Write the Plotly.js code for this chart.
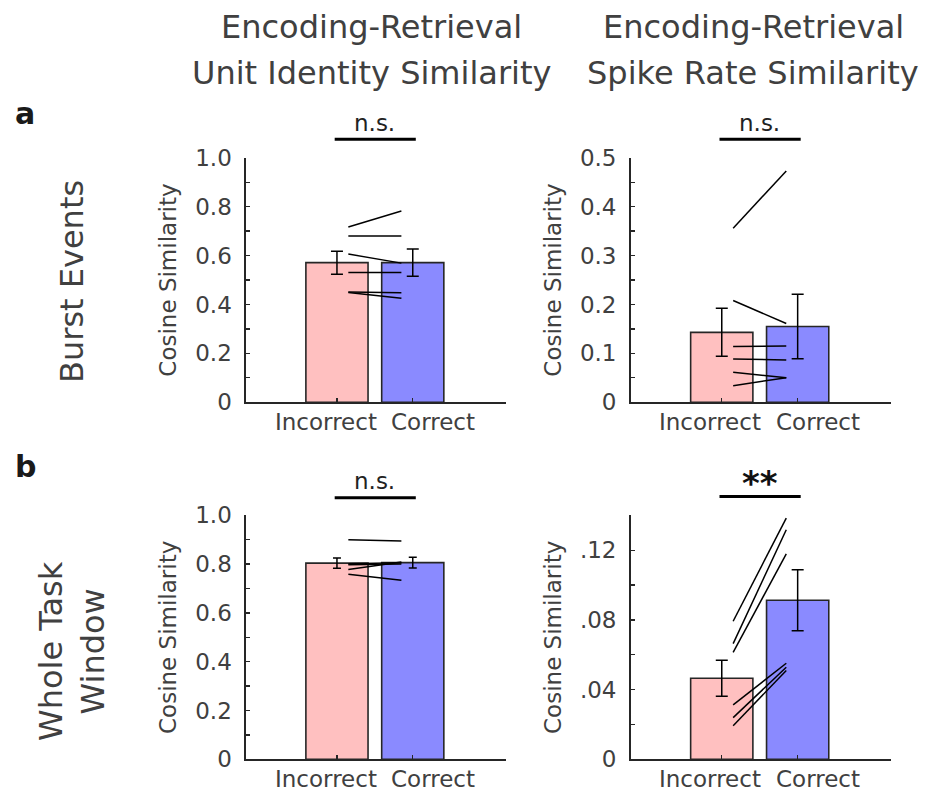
<!DOCTYPE html>
<html>
<head>
<meta charset="utf-8">
<script src="https://cdn.plot.ly/plotly-3.0.1.min.js"></script>
<style>
  html, body { margin: 0; padding: 0; background: #ffffff; }
  #chart { width: 925px; height: 793px; }
</style>
</head>
<body>
<div id="chart"></div>
<script>
// ---- data ----
const categories = ['Incorrect', 'Correct'];
const columnTitles = [
  ['Encoding-Retrieval', 'Unit Identity Similarity'],
  ['Encoding-Retrieval', 'Spike Rate Similarity']
];
const rowLabels = ['Burst Events', 'Whole Task<br>Window'];
const panelLetters = ['a', 'b'];
const yTitle = 'Cosine Similarity';

// a, left: unit identity similarity during burst events
const burstUnitMean = [0.571, 0.571];
const burstUnitSem = [0.047, 0.056];
const burstUnitIncorrect = [0.717, 0.680, 0.606, 0.531, 0.451, 0.449];
const burstUnitCorrect   = [0.782, 0.680, 0.569, 0.531, 0.448, 0.425];

// a, right: spike rate similarity during burst events
const burstRateMean = [0.143, 0.155];
const burstRateSem = [0.049, 0.066];
const burstRateIncorrect = [0.356, 0.208, 0.114, 0.0886, 0.0613, 0.034];
const burstRateCorrect   = [0.473, 0.161, 0.115, 0.0865, 0.0504, 0.0504];

// b, left: unit identity similarity over the whole task window
const taskUnitMean = [0.804, 0.806];
const taskUnitSem = [0.021, 0.022];
const taskUnitIncorrect = [0.900, 0.801, 0.797, 0.778, 0.758];
const taskUnitCorrect   = [0.895, 0.806, 0.800, 0.809, 0.734];

// b, right: spike rate similarity over the whole task window
const taskRateMean = [0.0465, 0.0913];
const taskRateSem = [0.0103, 0.0175];
const taskRateIncorrect = [0.0792, 0.0664, 0.0614, 0.0312, 0.0239, 0.0193];
const taskRateCorrect   = [0.1384, 0.1317, 0.1179, 0.0551, 0.0528, 0.0509];

// significance markers
const sigLabels = ['n.s.', 'n.s.', 'n.s.', '**'];
const sigHeights = [1.075, 0.5375, 1.072, 0.1508];

// y ticks
const unitTickVals = [0, 0.1, 0.2, 0.3, 0.4, 0.5, 0.6, 0.7, 0.8, 0.9, 1.0];
const unitTickText = ['0', '', '0.2', '', '0.4', '', '0.6', '', '0.8', '', '1.0'];
const burstRateTickVals = [0, 0.05, 0.1, 0.15, 0.2, 0.25, 0.3, 0.35, 0.4, 0.45, 0.5];
const burstRateTickText = ['0', '', '0.1', '', '0.2', '', '0.3', '', '0.4', '', '0.5'];
const taskRateTickVals = [0, 0.02, 0.04, 0.06, 0.08, 0.1, 0.12, 0.14];
const taskRateTickText = ['0', '', '.04', '', '.08', '', '.12', ''];

// ---- styling ----
const FONT = 'DejaVu Sans, Liberation Sans, Arial, sans-serif';
const TEXT = '#404040';
const AXIS = '#262626';
const PINK = 'rgb(255,192,192)';
const BLUE = 'rgb(138,138,255)';

const W = 925, H = 793;
const colX = [[246 / W, 506 / W], [630.7 / W, 891 / W]];
const rowY = [[1 - 402.3 / H, 1 - 157.7 / H], [1 - 759.3 / H, 1 - 515.3 / H]];
const xRange = [-1.2, 2.23];
const xPos = [0, 1];
const pairX = [0.15, 0.85];
const bracketX = [-0.03, 1.04];

// position along the x axis as a fraction of its length
const xFrac = v => (v - xRange[0]) / (xRange[1] - xRange[0]);

const panels = [
  { mean: burstUnitMean, sem: burstUnitSem, inc: burstUnitIncorrect, cor: burstUnitCorrect,
    max: 1.0, tv: unitTickVals, tt: unitTickText, row: 0, col: 0, cap: 6 },
  { mean: burstRateMean, sem: burstRateSem, inc: burstRateIncorrect, cor: burstRateCorrect,
    max: 0.5, tv: burstRateTickVals, tt: burstRateTickText, row: 0, col: 1, cap: 6 },
  { mean: taskUnitMean, sem: taskUnitSem, inc: taskUnitIncorrect, cor: taskUnitCorrect,
    max: 1.0, tv: unitTickVals, tt: unitTickText, row: 1, col: 0, cap: 4 },
  { mean: taskRateMean, sem: taskRateSem, inc: taskRateIncorrect, cor: taskRateCorrect,
    max: 0.14, tv: taskRateTickVals, tt: taskRateTickText, row: 1, col: 1, cap: 6 }
];

const traces = [];
const layout = {
  width: W, height: H,
  margin: { l: 0, r: 0, t: 0, b: 0 },
  paper_bgcolor: '#ffffff', plot_bgcolor: 'rgba(0,0,0,0)',
  showlegend: false,
  font: { family: FONT, color: TEXT },
  annotations: [],
  shapes: []
};

panels.forEach((p, i) => {
  const n = i + 1;
  const xa = 'x' + (n === 1 ? '' : n);
  const ya = 'y' + (n === 1 ? '' : n);

  layout['xaxis' + (n === 1 ? '' : n)] = {
    domain: colX[p.col], range: xRange, anchor: ya,
    tickvals: xPos, ticktext: categories, showticklabels: false,
    ticks: 'inside', ticklen: 4, tickwidth: 1.3, tickcolor: AXIS,
    showline: true, linecolor: AXIS, linewidth: 1.6,
    showgrid: false, zeroline: false, fixedrange: true
  };
  layout['yaxis' + (n === 1 ? '' : n)] = {
    domain: rowY[p.row], range: [0, p.max], anchor: xa,
    tickvals: p.tv, ticktext: p.tt,
    ticks: 'inside', ticklen: 4, tickwidth: 1.3, tickcolor: AXIS,
    ticklabelstandoff: 8,
    tickfont: { family: FONT, size: 23, color: TEXT },
    showline: true, linecolor: AXIS, linewidth: 1.6,
    showgrid: false, zeroline: false, fixedrange: true,
    title: { text: yTitle, font: { family: FONT, size: 23, color: TEXT }, standoff: 12 }
  };

  // bars with standard-error whiskers
  traces.push({
    type: 'bar', x: xPos, y: p.mean, width: 0.82,
    xaxis: xa, yaxis: ya,
    marker: { color: [PINK, BLUE], line: { color: AXIS, width: 1.6 } },
    error_y: { type: 'data', array: p.sem, visible: true, color: '#000000', thickness: 1.5, width: p.cap },
    hoverinfo: 'skip'
  });

  // one line per subject, incorrect -> correct
  p.inc.forEach((v, k) => {
    traces.push({
      type: 'scatter', mode: 'lines', x: pairX, y: [v, p.cor[k]],
      xaxis: xa, yaxis: ya, line: { color: '#000000', width: 1.5 },
      hoverinfo: 'skip'
    });
  });

  // significance bracket above the axis, and its label
  const sigFrac = sigHeights[i] / p.max;
  layout.shapes.push({
    type: 'line', xref: xa + ' domain', yref: ya + ' domain',
    x0: xFrac(bracketX[0]), x1: xFrac(bracketX[1]), y0: sigFrac, y1: sigFrac,
    line: { color: '#000000', width: 3 }
  });
  const star = sigLabels[i] === '**';
  layout.annotations.push({
    xref: xa, yref: ya + ' domain', x: 0.5, y: sigFrac + (star ? 0.055 : 0.067),
    text: star ? '<b>' + sigLabels[i] + '</b>' : sigLabels[i],
    showarrow: false, xanchor: 'center', yanchor: 'middle',
    font: { family: FONT, size: star ? 34 : 23, color: star ? '#111111' : '#222222' }
  });

  // category labels under the axis
  [-0.15, 1.27].forEach((lx, k) => {
    layout.annotations.push({
      xref: xa, yref: ya + ' domain', x: lx, y: -0.082,
      text: categories[k], showarrow: false, xanchor: 'center', yanchor: 'middle',
      font: { family: FONT, size: 23, color: TEXT }
    });
  });
});

// column titles
const titleX = [371 / W, 753 / W];
columnTitles.forEach((lines, c) => {
  lines.forEach((t, l) => {
    layout.annotations.push({
      xref: 'paper', yref: 'paper', x: titleX[c], y: 1 - (l === 0 ? 27 : 73) / H,
      text: t, showarrow: false, xanchor: 'center', yanchor: 'middle',
      font: { family: FONT, size: 32, color: TEXT }
    });
  });
});

// row labels
const rowLabelY = [1 - 282 / H, 1 - 651 / H];
rowLabels.forEach((t, r) => {
  layout.annotations.push({
    xref: 'paper', yref: 'paper', x: 72 / W, y: rowLabelY[r],
    text: t, showarrow: false, textangle: -90, xanchor: 'center', yanchor: 'middle',
    font: { family: FONT, size: 32, color: TEXT }
  });
});

// panel letters
const letterY = [1 - 113 / H, 1 - 467 / H];
panelLetters.forEach((t, r) => {
  layout.annotations.push({
    xref: 'paper', yref: 'paper', x: 13 / W, y: letterY[r],
    text: '<b>' + t + '</b>', showarrow: false, xanchor: 'left', yanchor: 'middle',
    font: { family: FONT, size: 30, color: '#1a1a1a' }
  });
});

Plotly.newPlot('chart', traces, layout, { displayModeBar: false, staticPlot: true });
</script>
</body>
</html>
